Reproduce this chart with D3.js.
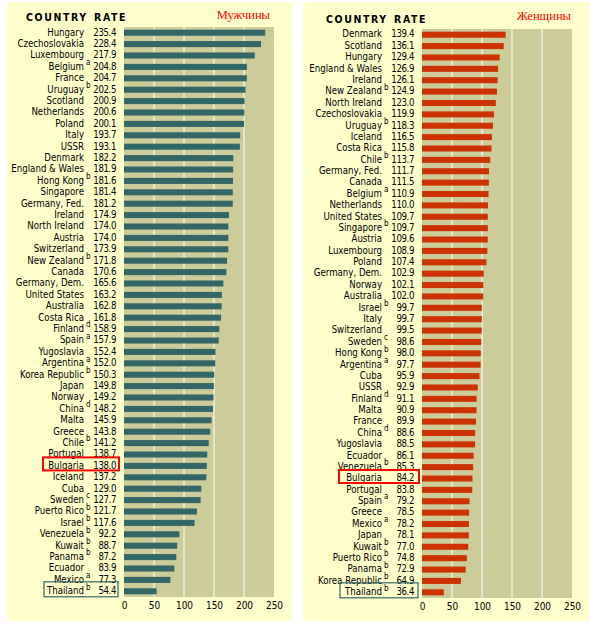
<!DOCTYPE html>
<html>
<head>
<meta charset="utf-8">
<script src="https://cdn.jsdelivr.net/npm/d3@7"></script>
<style>
  body { margin: 0; background: #fff; }
  text { font-family: "DejaVu Sans Condensed", "DejaVu Sans", sans-serif; }
</style>
</head>
<body>
<div id="chart"></div>
<script>
// Male suicide rates (per 100 000)
const maleCountries = ["Hungary", "Czechoslovakia", "Luxembourg", "Belgium", "France", "Uruguay", "Scotland",
    "Netherlands", "Poland", "Italy", "USSR", "Denmark", "England & Wales", "Hong Kong", "Singapore",
    "Germany, Fed.", "Ireland", "North Ireland", "Austria", "Switzerland", "New Zealand", "Canada",
    "Germany, Dem.", "United States", "Australia", "Costa Rica", "Finland", "Spain", "Yugoslavia",
    "Argentina", "Korea Republic", "Japan", "Norway", "China", "Malta", "Greece", "Chile", "Portugal",
    "Bulgaria", "Iceland", "Cuba", "Sweden", "Puerto Rico", "Israel", "Venezuela", "Kuwait", "Panama",
    "Ecuador", "Mexico", "Thailand"];
const maleRates = [235.4, 228.4, 217.9, 204.8, 204.7, 202.5, 200.9, 200.6, 200.1, 193.7, 193.1, 182.2, 181.9,
    181.6, 181.4, 181.2, 174.9, 174.0, 174.0, 173.9, 171.8, 170.6, 165.6, 163.2, 162.8, 161.8, 158.9, 157.9,
    152.4, 152.0, 150.3, 149.8, 149.2, 148.2, 145.9, 143.8, 141.2, 138.7, 138.0, 137.2, 129.0, 127.7, 121.7,
    117.6, 92.2, 88.7, 87.2, 83.9, 77.3, 54.4];
const maleNotes = ["", "", "", "a", "", "b", "", "", "", "", "", "", "", "b", "", "", "", "", "", "", "b", "",
    "", "", "", "", "d", "a", "", "a", "b", "", "", "d", "", "", "b", "", "", "", "", "c", "b", "b", "b", "b",
    "b", "", "a", "b"];

// Female suicide rates
const femaleCountries = ["Denmark", "Scotland", "Hungary", "England & Wales", "Ireland", "New Zealand",
    "North Ireland", "Czechoslovakia", "Uruguay", "Iceland", "Costa Rica", "Chile", "Germany, Fed.", "Canada",
    "Belgium", "Netherlands", "United States", "Singapore", "Austria", "Luxembourg", "Poland", "Germany, Dem.",
    "Norway", "Australia", "Israel", "Italy", "Switzerland", "Sweden", "Hong Kong", "Argentina", "Cuba", "USSR",
    "Finland", "Malta", "France", "China", "Yugoslavia", "Ecuador", "Venezuela", "Bulgaria", "Portugal", "Spain",
    "Greece", "Mexico", "Japan", "Kuwait", "Puerto Rico", "Panama", "Korea Republic", "Thailand"];
const femaleRates = [139.4, 136.1, 129.4, 126.9, 126.1, 124.9, 123.0, 119.9, 118.3, 116.5, 115.8, 113.7, 111.7,
    111.5, 110.9, 110.0, 109.7, 109.7, 109.6, 108.9, 107.4, 102.9, 102.1, 102.0, 99.7, 99.7, 99.5, 98.6, 98.0,
    97.7, 95.9, 92.9, 91.1, 90.9, 89.9, 88.6, 88.5, 86.1, 85.3, 84.2, 83.8, 79.2, 78.5, 78.2, 78.1, 77.0, 74.8,
    72.9, 64.9, 36.4];
const femaleNotes = ["", "", "", "", "", "b", "", "", "b", "", "", "b", "", "", "a", "", "", "b", "", "", "",
    "", "", "", "b", "", "", "c", "b", "a", "", "", "d", "", "", "d", "", "", "b", "", "", "a", "", "a", "",
    "b", "b", "b", "b", "b"];

const xTicks = [0, 50, 100, 150, 200, 250];

const svg = d3.select("#chart").append("svg")
    .attr("width", 589)
    .attr("height", 624);

const panels = [
    {
        countries: maleCountries, rates: maleRates, notes: maleNotes, color: "#336666", title: "Мужчины",
        bgX: 7, bgW: 285, plotX: 124, plotTop: 27, plotBottom: 597, nameX: 84, rateX: 116,
        countryX: 26, rateHeadX: 94, headY: 21, titleX: 270, titleY: 18.5, boxX0: 43, boxX1: 119
    },
    {
        countries: femaleCountries, rates: femaleRates, notes: femaleNotes, color: "#cc3300", title: "Женщины",
        bgX: 303, bgW: 286, plotX: 422, plotTop: 29, plotBottom: 598, nameX: 382, rateX: 414,
        countryX: 326, rateHeadX: 394, headY: 22.5, titleX: 571, titleY: 19.5, boxX0: 339, boxX1: 419
    }
];

panels.forEach(p => drawPanel(p));

function drawPanel(p) {
    const g = svg.append("g");

    g.append("rect")
        .attr("x", p.bgX).attr("y", 2)
        .attr("width", p.bgW).attr("height", 619)
        .attr("fill", "#ffffcc");

    const x = d3.scaleLinear()
        .domain([0, 250])
        .range([p.plotX, p.plotX + 150]);

    const y = d3.scaleBand()
        .domain(p.countries)
        .range([p.plotTop, p.plotBottom])
        .paddingInner(0.47)
        .paddingOuter(0.235);

    // plot background
    g.append("rect")
        .attr("x", x(0)).attr("y", p.plotTop)
        .attr("width", x(250) - x(0)).attr("height", p.plotBottom - p.plotTop)
        .attr("fill", "#cccc99");

    // white gridlines
    g.selectAll(".grid")
        .data(xTicks.slice(1, -1))
        .enter()
        .append("line")
        .attr("x1", d => x(d)).attr("x2", d => x(d))
        .attr("y1", p.plotTop).attr("y2", p.plotBottom)
        .attr("stroke", "#fff")
        .attr("stroke-width", 1);

    // bars
    g.selectAll(".bar")
        .data(p.rates)
        .enter()
        .append("rect")
        .attr("x", x(0))
        .attr("y", (_, i) => y(p.countries[i]))
        .attr("width", d => x(d) - x(0))
        .attr("height", y.bandwidth())
        .attr("fill", p.color);

    const mid = c => y(c) + y.bandwidth() / 2;

    // country names
    g.selectAll(".name")
        .data(p.countries)
        .enter()
        .append("text")
        .attr("x", p.nameX)
        .attr("y", d => mid(d) + 2.8)
        .attr("text-anchor", "end")
        .attr("font-size", 9.6)
        .text(d => d);

    // footnote letters
    g.selectAll(".note")
        .data(p.notes)
        .enter()
        .append("text")
        .attr("x", p.nameX + 2)
        .attr("y", (_, i) => mid(p.countries[i]) - 1.8)
        .attr("font-size", 8)
        .text(d => d);

    // rates
    g.selectAll(".rate")
        .data(p.rates)
        .enter()
        .append("text")
        .attr("x", p.rateX)
        .attr("y", (_, i) => mid(p.countries[i]) + 2.8)
        .attr("text-anchor", "end")
        .attr("font-size", 9.6)
        .attr("letter-spacing", -0.4)
        .text(d => d.toFixed(1));

    // header
    g.append("text")
        .attr("x", p.countryX).attr("y", p.headY)
        .attr("font-weight", "bold")
        .attr("font-size", 10.5)
        .attr("letter-spacing", 1.6)
        .text("COUNTRY");
    g.append("text")
        .attr("x", p.rateHeadX).attr("y", p.headY)
        .attr("font-weight", "bold")
        .attr("font-size", 10.5)
        .attr("letter-spacing", 1.6)
        .text("RATE");

    g.append("text")
        .attr("x", p.titleX).attr("y", p.titleY)
        .attr("text-anchor", "end")
        .attr("fill", "#ff0000")
        .attr("font-size", 12.5)
        .style("font-family", "'Liberation Serif', 'DejaVu Serif', serif")
        .text(p.title);

    // x axis labels
    const axis = g.append("g")
        .attr("transform", `translate(0, ${p.plotBottom})`)
        .call(d3.axisBottom(x).tickValues(xTicks).tickSize(0).tickPadding(5).tickFormat(d3.format("d")));
    axis.select(".domain").remove();
    axis.selectAll("text")
        .attr("font-size", 10)
        .attr("fill", "#000")
        .style("font-family", "'DejaVu Sans Condensed', 'DejaVu Sans', sans-serif");

    // highlight boxes: Bulgaria in red, Thailand in teal
    const bc = mid("Bulgaria");
    g.append("rect")
        .attr("x", p.boxX0).attr("y", bc - 8.5)
        .attr("width", p.boxX1 - p.boxX0).attr("height", 13)
        .attr("fill", "none")
        .attr("stroke", "#ff0000")
        .attr("stroke-width", 2);

    const tc = mid("Thailand");
    g.append("rect")
        .attr("x", p.boxX0 + 1).attr("y", tc - 9.5)
        .attr("width", p.boxX1 - p.boxX0 - 2).attr("height", 15)
        .attr("fill", "none")
        .attr("stroke", "#336666")
        .attr("stroke-width", 1.2);
}
</script>
</body>
</html>
